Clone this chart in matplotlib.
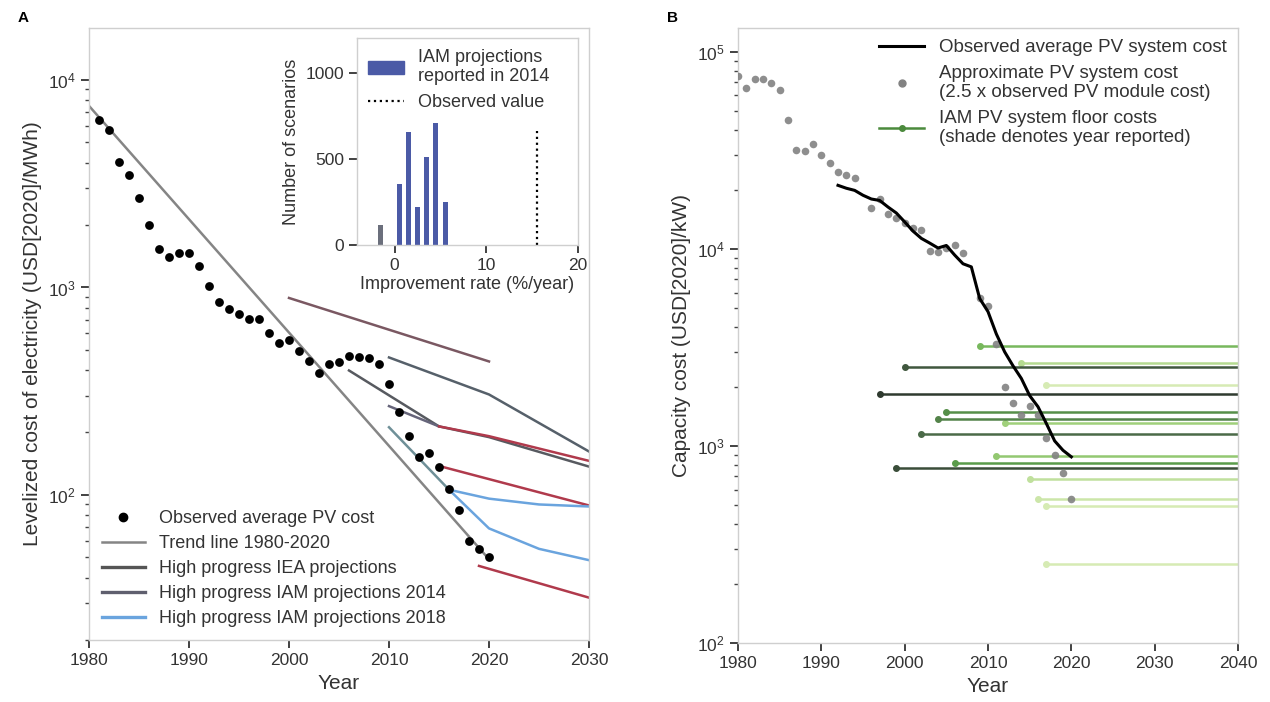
import numpy as np
import matplotlib
matplotlib.use("Agg")
import matplotlib.pyplot as plt
from matplotlib.lines import Line2D
from matplotlib.patches import Patch
from matplotlib.colors import LinearSegmentedColormap

plt.rcParams["font.family"] = ["Liberation Sans", "DejaVu Sans"]

# ── Panel A: observed LCOE and projections ───────────────────────────────────
obs_years = list(range(1981, 2021))
obs_lcoe = [6430, 5710, 4030, 3470, 2700, 2005, 1527, 1409, 1463, 1463,
            1270, 1019, 847, 787, 745, 705, 705, 601, 540, 558,
            495, 440, 386, 427, 435, 468, 461, 456, 429, 343,
            252, 193, 152, 159, 136, 107, 85, 60, 55, 50]

trend_years = [1980, 2020]
trend_lcoe = [7500, 49]

# IEA high progress projections
iea_a_years = [2000, 2020]
iea_a_lcoe = [890, 440]
iea_b_years = [2010, 2020, 2030]
iea_b_lcoe = [460, 305, 162]
iea_c_years = [2006, 2015, 2020, 2030]
iea_c_lcoe = [398, 214, 190, 137]

# IAM 2014 high progress projections
iam14_a_years = [2010, 2015]
iam14_a_lcoe = [268, 214]
iam14_a_tail_years = [2015, 2020, 2030]
iam14_a_tail_lcoe = [214, 192, 146]
iam14_b_years = [2015, 2030]
iam14_b_lcoe = [138, 89]
iam14_c_years = [2019, 2030]
iam14_c_lcoe = [45.5, 32]

# IAM 2018 high progress projections
iam18_a_years = [2016, 2020, 2025, 2030]
iam18_a_lcoe = [106, 96, 90, 88]
iam18_b_years = [2010, 2016]
iam18_b_lcoe = [212, 106]
iam18_b_tail_years = [2016, 2020, 2025, 2030]
iam18_b_tail_lcoe = [106, 69, 55, 48.5]

# inset histogram
hist_rate = [-1.5, 0.5, 1.5, 2.5, 3.5, 4.5, 5.5]
hist_count = [115, 354, 655, 220, 508, 705, 249]
observed_rate = 15.5
observed_line_top = 660

# ── Panel B: capacity costs ──────────────────────────────────────────────────
sys_years = list(range(1992, 2021))
sys_cost = [21000, 20300, 19800, 18700, 17900, 17600, 16300, 15200, 13700, 12300,
            11300, 10700, 10100, 10400, 9300, 8400, 8100, 5600, 4800, 3700,
            3000, 2550, 2200, 1800, 1580, 1300, 1060, 950, 880]

approx_years = [1980, 1981, 1982, 1983, 1984, 1985, 1986, 1987, 1988, 1989,
                1990, 1991, 1992, 1993, 1994, 1996, 1997, 1998, 1999, 2000,
                2001, 2002, 2003, 2004, 2005, 2006, 2007, 2009, 2010, 2011,
                2012, 2013, 2014, 2015, 2016, 2017, 2018, 2019, 2020]
approx_cost = [75000, 65500, 72700, 72700, 69400, 63700, 44800, 31800, 31200, 34100,
               30000, 27200, 24400, 23800, 22900, 16100, 17900, 15000, 14300, 13500,
               12700, 12500, 9700, 9600, 10100, 10500, 9500, 5600, 5100, 3300,
               1990, 1650, 1436, 1597, 1436, 1094, 900, 731, 538]

floor_start = [2009, 2000, 2014, 2017, 1997, 2005, 2004, 2012, 2002, 2011,
               2006, 1999, 2015, 2016, 2017, 2017]
floor_cost = [3200, 2520, 2650, 2030, 1840, 1480, 1365, 1300, 1146, 885,
              815, 770, 680, 535, 495, 252]
floor_end = 2040

SPINE = "#cfcfcf"
TXT = "#333333"


def style_axes(ax):
    for s in ax.spines.values():
        s.set_color(SPINE)
        s.set_linewidth(1.0)
    ax.tick_params(which="major", direction="out", length=6, width=1.3,
                   color="#333333", labelcolor=TXT, labelsize=12.5)
    ax.tick_params(which="minor", direction="out", length=3, width=1.0,
                   color="#444444")
    ax.tick_params(top=False, right=False, which="both")


fig = plt.figure(figsize=(12.7, 7.02), dpi=100)
axA = fig.add_axes([89 / 1270, 62 / 702, 500 / 1270, 612 / 702])
axB = fig.add_axes([738 / 1270, 59 / 702, 500 / 1270, 615 / 702])
axI = fig.add_axes([357 / 1270, 457 / 702, 221 / 1270, 207 / 702])

# ── A ──
RED = "#b03a4c"
BLUE = "#6aa4de"
axA.plot(trend_years, trend_lcoe, color="#858585", lw=1.8, zorder=2)
axA.plot(iea_a_years, iea_a_lcoe, color="#7a5862", lw=1.8)
axA.plot(iea_b_years, iea_b_lcoe, color="#56606a", lw=1.8)
axA.plot(iea_c_years, iea_c_lcoe, color="#575a60", lw=1.8)
axA.plot(iam14_a_years, iam14_a_lcoe, color="#66657a", lw=1.8)
axA.plot(iam14_a_tail_years, iam14_a_tail_lcoe, color=RED, lw=1.8)
axA.plot(iam14_b_years, iam14_b_lcoe, color=RED, lw=1.8)
axA.plot(iam14_c_years, iam14_c_lcoe, color=RED, lw=1.8)
axA.plot(iam18_a_years, iam18_a_lcoe, color=BLUE, lw=1.8)
axA.plot(iam18_b_years, iam18_b_lcoe, color="#6f9098", lw=1.8)
axA.plot(iam18_b_tail_years, iam18_b_tail_lcoe, color=BLUE, lw=1.8)
axA.scatter(obs_years, obs_lcoe, s=40, color="black", zorder=4, linewidths=0)

axA.set_yscale("log")
axA.set_xlim(1980, 2030)
axA.set_ylim(20, 1.78e4)
axA.set_xticks(range(1980, 2031, 10))
axA.set_xlabel("Year", fontsize=15, color=TXT)
axA.set_ylabel("Levelized cost of electricity (USD[2020]/MWh)", fontsize=15, color=TXT)
style_axes(axA)

handlesA = [
    Line2D([], [], marker="o", ls="none", color="black", markersize=6),
    Line2D([], [], color="#858585", lw=1.8),
    Line2D([], [], color="#555555", lw=2.4),
    Line2D([], [], color="#5f5f6e", lw=2.4),
    Line2D([], [], color=BLUE, lw=2.4),
]
labelsA = ["Observed average PV cost", "Trend line 1980-2020",
           "High progress IEA projections", "High progress IAM projections 2014",
           "High progress IAM projections 2018"]
legA = axA.legend(handlesA, labelsA, loc="lower left", frameon=False,
                  fontsize=13, handlelength=2.4, borderaxespad=0.3,
                  labelspacing=0.45, bbox_to_anchor=(0.0, 0.0))
for t in legA.get_texts():
    t.set_color(TXT)

# ── inset ──
axI.bar(hist_rate[:1], hist_count[:1], width=0.55, color="#6b6f7c")
axI.bar(hist_rate[1:], hist_count[1:], width=0.55, color="#4b5aa6")
axI.vlines(observed_rate, 0, observed_line_top, colors="black", linestyles=":", lw=1.6)
axI.set_xlim(-4.1, 20)
axI.set_ylim(0, 1200)
axI.set_xticks([0, 10, 20])
axI.set_yticks([0, 500, 1000])
axI.set_xlabel("Improvement rate (%/year)", fontsize=13, color=TXT, labelpad=2)
axI.set_ylabel("Number of scenarios", fontsize=13, color=TXT)
style_axes(axI)
handlesI = [Patch(color="#4b5aa6"),
            Line2D([], [], color="black", ls=":", lw=1.6)]
legI = axI.legend(handlesI, ["IAM projections\nreported in 2014", "Observed value"],
                  loc="upper left", frameon=False, fontsize=13,
                  handlelength=2.0, borderaxespad=0.2)
for t in legI.get_texts():
    t.set_color(TXT)

# ── B ──
cmap = LinearSegmentedColormap.from_list(
    "floor", ["#2f3a2f", "#4b6a48", "#5ea84a", "#9fd07a", "#d6ebb4"])
ymin, ymax = min(floor_start), max(floor_start)
order = np.argsort(floor_start)[::-1]
for i in order:
    c = cmap((floor_start[i] - ymin) / (ymax - ymin))
    axB.plot([floor_start[i], floor_end], [floor_cost[i], floor_cost[i]],
             color=c, lw=1.8, marker="o", markersize=4, markevery=[0], zorder=2)

axB.scatter(approx_years, approx_cost, s=30, color="#828282", linewidths=0,
            alpha=0.9, zorder=3)
axB.plot(sys_years, sys_cost, color="black", lw=2.2, zorder=4)

axB.set_yscale("log")
axB.set_xlim(1980, 2040)
axB.set_ylim(100, 1.32e5)
axB.set_xticks(range(1980, 2041, 10))
axB.set_xlabel("Year", fontsize=15, color=TXT)
axB.set_ylabel("Capacity cost (USD[2020]/kW)", fontsize=15, color=TXT)
style_axes(axB)

handlesB = [
    Line2D([], [], color="black", lw=2.2),
    Line2D([], [], marker="o", ls="none", color="#828282", markersize=5),
    Line2D([], [], color="#4b8a3c", lw=1.8, marker="o", markersize=4),
]
labelsB = ["Observed average PV system cost",
           "Approximate PV system cost\n(2.5 x observed PV module cost)",
           "IAM PV system floor costs\n(shade denotes year reported)"]
legB = axB.legend(handlesB, labelsB, loc="upper right", frameon=False,
                  fontsize=13.5, handlelength=2.4, borderaxespad=0.2,
                  labelspacing=0.45)
for t in legB.get_texts():
    t.set_color(TXT)

fig.text(18 / 1270, 1 - 18 / 702, "A", fontsize=11, fontweight="bold", va="center")
fig.text(667 / 1270, 1 - 18 / 702, "B", fontsize=11, fontweight="bold", va="center")

fig.savefig("out.png", dpi=100)
